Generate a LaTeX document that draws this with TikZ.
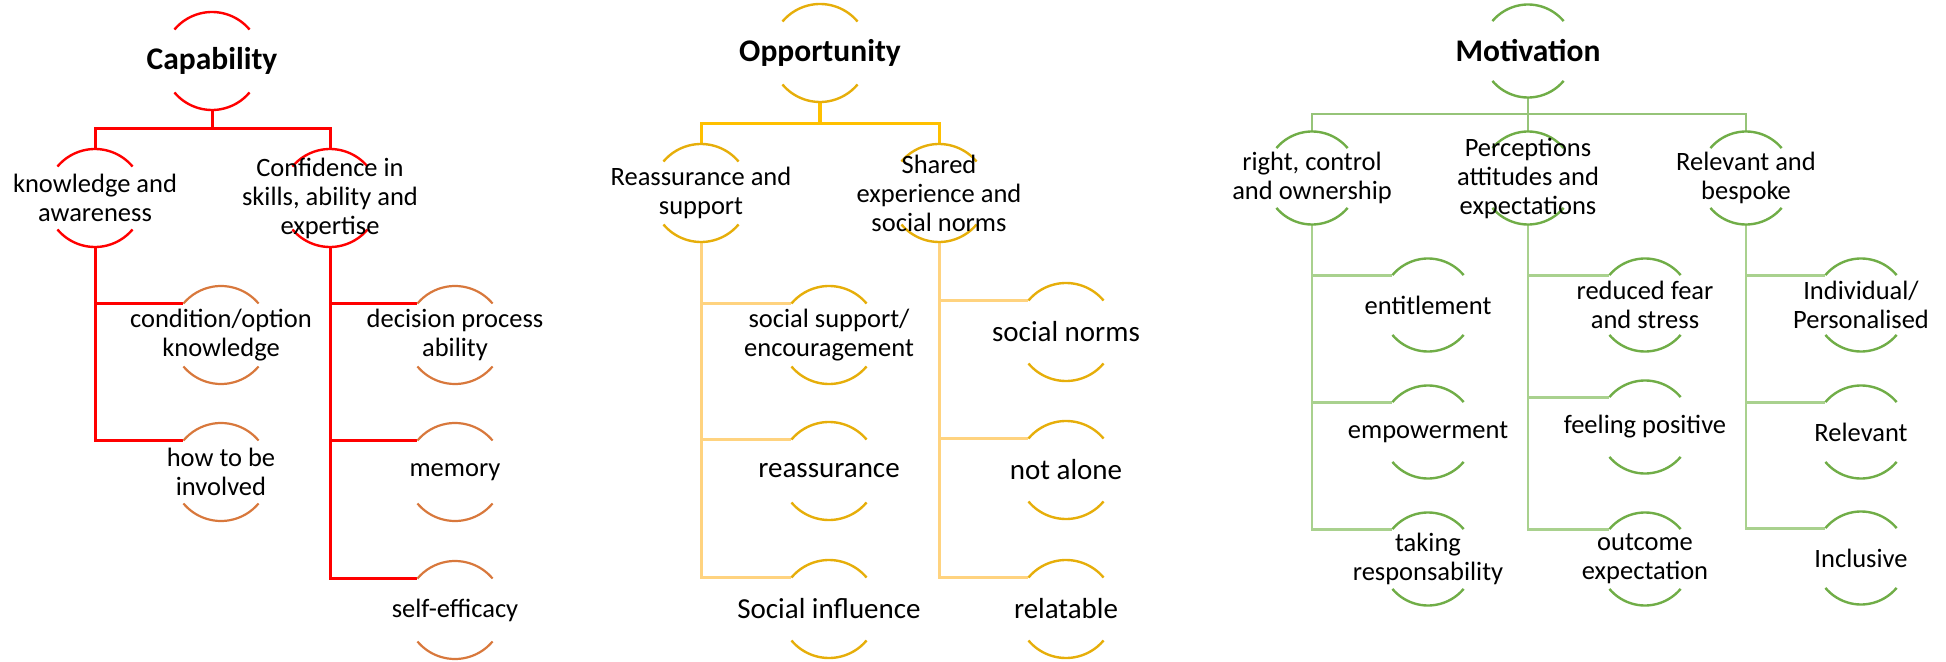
\documentclass[tikz,border=0pt]{standalone}
\usepackage{fontspec}
\setmainfont{Carlito}
\definecolor{capred}{RGB}{255,0,0}
\definecolor{caporange}{RGB}{216,120,60}
\definecolor{oppgold}{RGB}{230,174,10}
\definecolor{oppline}{RGB}{255,192,0}
\definecolor{opplight}{RGB}{255,211,127}
\definecolor{motgreen}{RGB}{112,173,71}
\definecolor{motline}{RGB}{150,196,120}
\definecolor{motlight}{RGB}{169,209,142}
\newcommand\ringarcs[3]{%
  \draw[#3] (#1.40) arc[start angle=40,end angle=140,radius=#2];
  \draw[#3] (#1.220) arc[start angle=220,end angle=320,radius=#2];}
\begin{document}
\begin{tikzpicture}[x=0.5pt,y=-0.5pt,
  ring/.style={circle,minimum size=49pt,inner sep=0pt,outer sep=0pt},
  mring/.style={circle,minimum size=46.5pt,inner sep=0pt,outer sep=0pt},
  txt/.style={align=center,inner sep=0pt,font=\fontsize{13.25}{14.5}\selectfont},
  ttl/.style={inner sep=0pt,font=\bfseries\fontsize{15.75}{18}\selectfont},
  btxt/.style={align=center,inner sep=0pt,font=\fontsize{14.5}{16}\selectfont},
  capconn/.style={draw=capred,line width=1.5pt},
  caparc/.style={draw=capred,line width=1.2pt},
  capsub/.style={draw=caporange,line width=1.1pt},
  oppconn/.style={draw=oppline,line width=1.5pt},
  opplow/.style={draw=opplight,line width=1.5pt},
  opparc/.style={draw=oppgold,line width=1.2pt},
  motconn/.style={draw=motline,line width=1.4pt},
  motlow/.style={draw=motlight,line width=1.4pt},
  motarc/.style={draw=motgreen,line width=1.2pt}]
\useasboundingbox (0,0) rectangle (1946,662);

% ---------------- Capability ----------------
\node[ring] (cap) at (212,61) {};
\node[ring] (c1) at (95,198) {};
\node[ring] (c2) at (330,198) {};
\node[ring] (g11) at (221,335) {};
\node[ring] (g12) at (221,472) {};
\node[ring] (g21) at (455,335) {};
\node[ring] (g22) at (455,472) {};
\node[ring] (g23) at (455,610) {};
\coordinate (capbar) at (212,129);

\draw[capconn] (cap.south) -- (capbar);
\draw[capconn] (c1.north) |- (capbar) -| (c2.north);
\draw[capconn] (c1.south) |- (g11.140);
\draw[capconn] (c1.south) |- (g12.140);
\draw[capconn] (c2.south) |- (g21.140);
\draw[capconn] (c2.south) |- (g22.140);
\draw[capconn] (c2.south) |- (g23.140);

\ringarcs{cap}{24.5pt}{caparc}
\ringarcs{c1}{24.5pt}{caparc}
\ringarcs{c2}{24.5pt}{caparc}
\ringarcs{g11}{24.5pt}{capsub}
\ringarcs{g12}{24.5pt}{capsub}
\ringarcs{g21}{24.5pt}{capsub}
\ringarcs{g22}{24.5pt}{capsub}
\ringarcs{g23}{24.5pt}{capsub}

\node[ttl] (cap-t) at (cap) {Capability};
\node[txt] (c1-t) at (c1) {knowledge and\\awareness};
\node[txt] (c2-t) at (c2) {Confidence in\\skills, ability and\\expertise};
\node[txt] (g11-t) at (g11) {condition/option\\knowledge};
\node[txt] (g12-t) at (g12) {how to be\\involved};
\node[txt] (g21-t) at (g21) {decision process\\ability};
\node[txt] (g22-t) at (g22) {memory};
\node[txt] (g23-t) at (g23) {self-efficacy};

% ---------------- Opportunity ----------------
\node[ring] (opp) at (820,53) {};
\node[ring] (o1) at (701,193) {};
\node[ring] (o2) at (939,193) {};
\node[ring] (p11) at (829,335) {};
\node[ring] (p12) at (829,471) {};
\node[ring] (p13) at (829,609) {};
\node[ring] (p21) at (1066,332) {};
\node[ring] (p22) at (1066,470) {};
\node[ring] (p23) at (1066,609) {};
\coordinate (oppbar) at (820,124);

\draw[oppconn,line width=2pt] (opp.south) -- (oppbar);
\draw[oppconn] (o1.north) |- (oppbar) -| (o2.north);
\draw[opplow] (o1.south) |- (p11.140);
\draw[opplow] (o1.south) |- (p12.140);
\draw[opplow] (o1.south) |- (p13.140);
\draw[opplow] (o2.south) |- (p21.140);
\draw[opplow] (o2.south) |- (p22.140);
\draw[opplow] (o2.south) |- (p23.140);

\ringarcs{opp}{24.5pt}{opparc}
\ringarcs{o1}{24.5pt}{opparc}
\ringarcs{o2}{24.5pt}{opparc}
\ringarcs{p11}{24.5pt}{opparc}
\ringarcs{p12}{24.5pt}{opparc}
\ringarcs{p13}{24.5pt}{opparc}
\ringarcs{p21}{24.5pt}{opparc}
\ringarcs{p22}{24.5pt}{opparc}
\ringarcs{p23}{24.5pt}{opparc}

\node[ttl] (opp-t) at (opp) {Opportunity};
\node[txt] (o1-t) at (o1) {Reassurance and\\support};
\node[txt] (o2-t) at (o2) {Shared\\experience and\\social norms};
\node[txt] (p11-t) at (p11) {social support/\\encouragement};
\node[btxt] (p12-t) at (p12) {reassurance};
\node[btxt] (p13-t) at (p13) {Social influence};
\node[btxt] (p21-t) at (p21) {social norms};
\node[btxt] (p22-t) at (p22) {not alone};
\node[btxt] (p23-t) at (p23) {relatable};

% ---------------- Motivation ----------------
\node[mring] (mot) at (1528,51) {};
\node[mring] (m1) at (1312,178) {};
\node[mring] (m2) at (1528,178) {};
\node[mring] (m3) at (1746,178) {};
\node[mring] (q11) at (1428,305) {};
\node[mring] (q12) at (1428,432) {};
\node[mring] (q13) at (1428,559) {};
\node[mring] (q21) at (1645,305) {};
\node[mring] (q22) at (1645,427) {};
\node[mring] (q23) at (1645,559) {};
\node[mring] (q31) at (1861,305) {};
\node[mring] (q32) at (1861,432) {};
\node[mring] (q33) at (1861,558) {};
\coordinate (motbar) at (1528,114);

\draw[motconn] (mot.south) -- (m2.north);
\draw[motconn] (m1.north) |- (motbar) -| (m3.north);
\draw[motlow] (m1.south) |- (q11.140);
\draw[motlow] (m1.south) |- (q12.140);
\draw[motlow] (m1.south) |- (q13.140);
\draw[motlow] (m2.south) |- (q21.140);
\draw[motlow] (m2.south) |- (q22.140);
\draw[motlow] (m2.south) |- (q23.140);
\draw[motlow] (m3.south) |- (q31.140);
\draw[motlow] (m3.south) |- (q32.140);
\draw[motlow] (m3.south) |- (q33.140);

\foreach \n in {mot,m1,m2,m3,q11,q12,q13,q21,q22,q23,q31,q32,q33}{\ringarcs{\n}{23.25pt}{motarc}}

\node[ttl] (mot-t) at (mot) {Motivation};
\node[txt] (m1-t) at (m1) {right, control\\and ownership};
\node[txt] (m2-t) at (m2) {Perceptions\\attitudes and\\expectations};
\node[txt] (m3-t) at (m3) {Relevant and\\bespoke};
\node[txt] (q11-t) at (q11) {entitlement};
\node[txt] (q12-t) at (q12) {empowerment};
\node[txt] (q13-t) at (q13) {taking\\responsability};
\node[txt] (q21-t) at (q21) {reduced fear\\and stress};
\node[txt] (q22-t) at (q22) {feeling positive};
\node[txt] (q23-t) at (q23) {outcome\\expectation};
\node[txt] (q31-t) at (q31) {Individual/\\Personalised};
\node[txt] (q32-t) at (q32) {Relevant};
\node[txt] (q33-t) at (q33) {Inclusive};
\end{tikzpicture}
\end{document}
